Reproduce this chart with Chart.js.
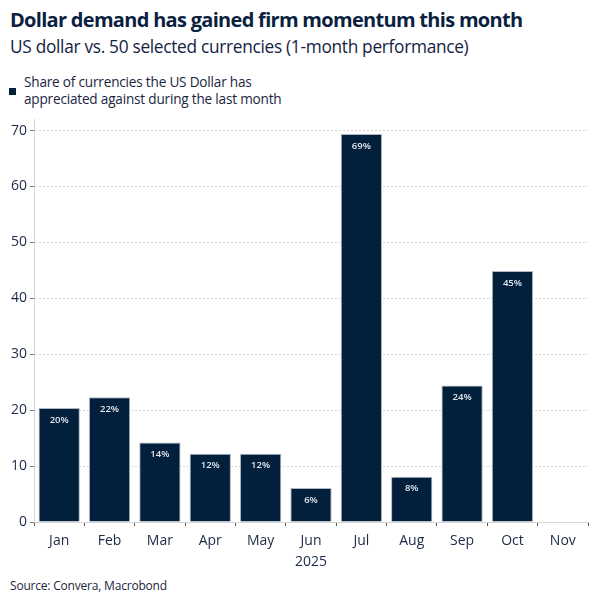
<!DOCTYPE html>
<html>
<head>
<meta charset="utf-8">
<script src="https://cdn.jsdelivr.net/npm/chart.js@4"></script>
<style>
  body { margin: 0; background: #fff; font-family: "Open Sans", "Noto Sans", sans-serif; color: #0b1f3f; }
  #wrap { position: relative; width: 604px; height: 604px; overflow: hidden; }
  .title { position: absolute; left: 10px; top: 6px; font-size: 20px; font-weight: 700; letter-spacing: -0.7px; }
  .subtitle { position: absolute; left: 10px; top: 35px; font-size: 17.3px; letter-spacing: -0.3px; color: #13233f; }
  .legend { position: absolute; left: 24px; top: 73px; font-size: 13.6px; line-height: 17px; letter-spacing: -0.2px; color: #1a2640; }
  .legend .box { position: absolute; left: -15px; top: 15px; width: 7px; height: 7px; background: #021f3b; }
  .source { position: absolute; left: 10px; top: 577px; font-size: 12px; letter-spacing: -0.2px; color: #1a2640; }
  #chart-box { position: absolute; left: 0; top: 108px; width: 604px; height: 462px; }
</style>
</head>
<body>
<div id="wrap">
  <div class="title">Dollar demand has gained firm momentum this month</div>
  <div class="subtitle">US dollar vs. 50 selected currencies (1-month performance)</div>
  <div class="legend"><span class="box"></span>Share of currencies the US Dollar has<br>appreciated against during the last month</div>
  <div id="chart-box"><canvas id="chart"></canvas></div>
  <div class="source">Source: Convera, Macrobond</div>
</div>
<script>
const months = ["Jan", "Feb", "Mar", "Apr", "May", "Jun", "Jul", "Aug", "Sep", "Oct", "Nov"];
const shareAppreciated = [20.4, 22.3, 14.2, 12.2, 12.2, 6.1, 69.4, 8.1, 24.4, 44.9, null];
const yearLabel = "2025";

const navy = "#021f3b";
const inkColor = "#1b2a47";

// writes the rounded percentage inside the top of each bar
const barLabels = {
  id: "barLabels",
  afterDatasetsDraw(chart) {
    const ctx = chart.ctx;
    const meta = chart.getDatasetMeta(0);
    ctx.save();
    ctx.font = "600 9.5px 'Open Sans', sans-serif";
    ctx.fillStyle = "#e3e7ed";
    ctx.textAlign = "center";
    ctx.textBaseline = "middle";
    meta.data.forEach((bar, i) => {
      const v = shareAppreciated[i];
      if (v == null) return;
      ctx.fillText(Math.round(v) + "%", bar.x, bar.y + 12);
    });
    ctx.restore();
  },
};

new Chart(document.getElementById("chart"), {
  type: "bar",
  data: {
    labels: months,
    datasets: [
      {
        label: "Share of currencies the US Dollar has appreciated against during the last month",
        data: shareAppreciated,
        backgroundColor: navy,
        borderColor: "#aeb7c2",
        borderWidth: 1,
        barPercentage: 0.82,
        categoryPercentage: 1,
      },
    ],
  },
  options: {
    responsive: true,
    maintainAspectRatio: false,
    animation: false,
    layout: { padding: { top: 9, right: 16, left: 0, bottom: 0 } },
    plugins: {
      legend: { display: false },
      tooltip: { enabled: false },
    },
    scales: {
      x: {
        offset: true,
        grid: {
          offset: true,
          drawOnChartArea: false,
          drawTicks: true,
          tickLength: 4,
          tickColor: "#555",
        },
        border: { color: "#d4d4d4" },
        ticks: {
          color: inkColor,
          font: { size: 14, family: "'Open Sans', sans-serif" },
          padding: 7,
        },
        title: {
          display: true,
          text: yearLabel,
          color: inkColor,
          font: { size: 14, family: "'Open Sans', sans-serif" },
          padding: { top: 0, bottom: 0 },
        },
        afterFit(scale) {
          scale.height = 48;
        },
      },
      y: {
        min: 0,
        max: 72,
        grid: {
          color: "#d9d9d9",
          tickBorderDash: [],
          tickColor: "#777",
          tickLength: 4,
        },
        border: { color: "#d4d4d4", dash: [2, 2] },
        ticks: {
          stepSize: 10,
          includeBounds: false,
          color: inkColor,
          font: { size: 14, family: "'Open Sans', sans-serif" },
          padding: 3,
        },
        afterFit(scale) {
          scale.width = 34;
        },
      },
    },
  },
  plugins: [barLabels],
});
</script>
</body>
</html>
